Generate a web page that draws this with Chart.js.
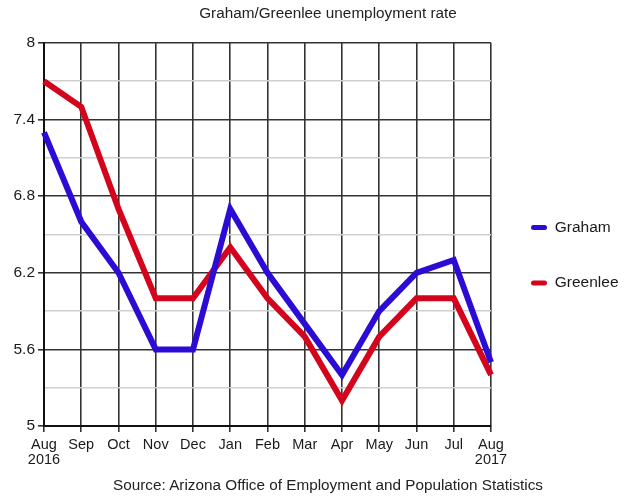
<!DOCTYPE html>
<html>
<head>
<meta charset="utf-8">
<script src="https://cdn.jsdelivr.net/npm/chart.js@4"></script>
<style>
    html, body { margin: 0; padding: 0; background: #fff; }
    #wrap { position: relative; width: 625px; height: 496px; }
    #wrap canvas { position: absolute; left: 0; top: 0; }
    .caption {
        position: absolute;
        left: 31px;
        width: 594px;
        text-align: center;
        font-family: 'Liberation Sans', Arial, Helvetica, sans-serif;
        font-size: 15.3px;
        line-height: 18.4px;
        color: #222;
        white-space: nowrap;
    }
    #title { top: 4px; }
    #source { top: 476px; }
</style>
</head>
<body>
<div id="wrap">
    <canvas id="rateChart" width="625" height="496"></canvas>
    <div id="title" class="caption">Graham/Greenlee unemployment rate</div>
    <div id="source" class="caption">Source: Arizona Office of Employment and Population Statistics</div>
</div>
<script>
// Graham/Greenlee 失业率
const months = [['Aug', '2016'], 'Sep', 'Oct', 'Nov', 'Dec', 'Jan', 'Feb', 'Mar', 'Apr', 'May', 'Jun', 'Jul', ['Aug', '2017']];
const grahamRates = [7.3, 6.6, 6.2, 5.6, 5.6, 6.7, 6.2, 5.8, 5.4, 5.9, 6.2, 6.3, 5.5];
const greenleeRates = [7.7, 7.5, 6.7, 6.0, 6.0, 6.4, 6.0, 5.7, 5.2, 5.7, 6.0, 6.0, 5.4];
const rateTicks = [5, 5.3, 5.6, 5.9, 6.2, 6.5, 6.8, 7.1, 7.4, 7.7, 8];
const labeledTicks = [5, 5.6, 6.2, 6.8, 7.4, 8];

const FONT = "'Liberation Sans', Arial, Helvetica, sans-serif";
const colors = {
    graham: '#2a0cd4',
    greenlee: '#d4041c',
    text: '#1a1a1a',
    gridDark: '#333',
    gridLight: '#cfcfcf',
    axis: '#111'
};

function isLabeled(v) {
    return labeledTicks.some(function (t) { return Math.abs(t - v) < 1e-6; });
}

var ctx = document.getElementById('rateChart');
var chart = new Chart(ctx, {
    type: 'line',
    data: {
        labels: months,
        datasets: [
            {
                label: 'Graham',
                data: grahamRates,
                borderColor: colors.graham,
                backgroundColor: colors.graham,
                borderWidth: 6,
                pointRadius: 0,
                tension: 0
            },
            {
                label: 'Greenlee',
                data: greenleeRates,
                borderColor: colors.greenlee,
                backgroundColor: colors.greenlee,
                borderWidth: 6,
                pointRadius: 0,
                tension: 0
            }
        ]
    },
    options: {
        responsive: false,
        animation: false,
        events: [],
        // 顶部/底部留给 HTML 标题和来源
        layout: { padding: { left: 0, right: 0, top: 43, bottom: 28.6 } },
        plugins: {
            title: { display: false },
            legend: {
                position: 'right',
                maxWidth: 134,
                labels: {
                    color: colors.text,
                    font: { family: FONT, size: 15.5 },
                    boxWidth: 16,
                    boxHeight: 5,
                    padding: 40,
                    generateLabels: function (c) {
                        var items = Chart.defaults.plugins.legend.labels.generateLabels(c);
                        items.forEach(function (it) {
                            it.lineWidth = 0;
                            it.borderRadius = 2.5;
                        });
                        return items;
                    }
                }
            },
            tooltip: { enabled: false }
        },
        scales: {
            x: {
                offset: false,
                afterFit: function (scale) {
                    scale.height = 41.4;
                },
                grid: {
                    color: colors.gridDark,
                    lineWidth: 1.6,
                    tickColor: colors.gridDark,
                    tickLength: 6
                },
                border: { color: colors.axis, width: 2 },
                ticks: {
                    color: colors.text,
                    padding: 5,
                    maxRotation: 0,
                    autoSkip: false,
                    font: { family: FONT, size: 14.5, lineHeight: 1.05 }
                }
            },
            y: {
                min: 5,
                max: 8,
                afterBuildTicks: function (scale) {
                    scale.ticks = rateTicks.map(function (v) { return { value: v }; });
                },
                afterFit: function (scale) {
                    scale.width = 44;
                },
                grid: {
                    lineWidth: 1.6,
                    tickLength: 6,
                    color: function (c) {
                        return c.tick && isLabeled(c.tick.value) ? colors.gridDark : colors.gridLight;
                    },
                    tickColor: function (c) {
                        return c.tick && isLabeled(c.tick.value) ? colors.gridDark : 'rgba(0,0,0,0)';
                    }
                },
                border: { color: colors.axis, width: 2 },
                ticks: {
                    color: colors.text,
                    padding: 3,
                    autoSkip: false,
                    font: { family: FONT, size: 15.5 },
                    callback: function (value) {
                        return isLabeled(value) ? String(Number(value.toFixed(1))) : '';
                    }
                }
            }
        }
    }
});
</script>
</body>
</html>
